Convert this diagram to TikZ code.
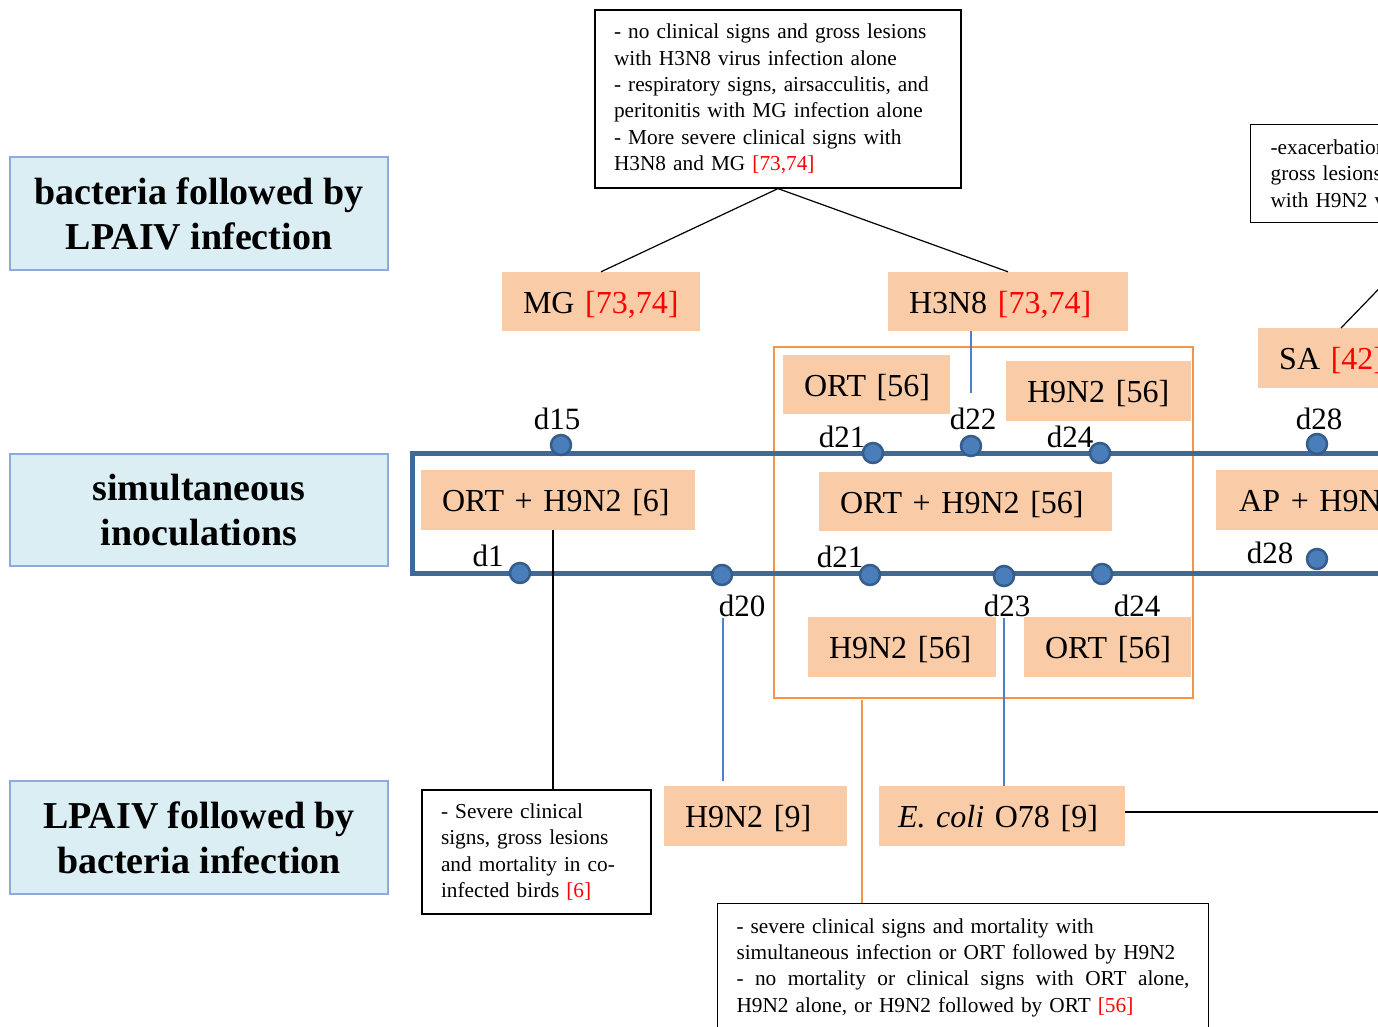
\documentclass[tikz,border=0pt]{standalone}
\usepackage{fontspec}
\setmainfont{Liberation Serif}
\usepackage{xcolor}
\definecolor{peach}{HTML}{F9CBA6}
\definecolor{grporange}{HTML}{F4954A}
\definecolor{framblue}{HTML}{3E6A9A}
\definecolor{dotfill}{HTML}{4A7EBB}
\definecolor{dotedge}{HTML}{355C8A}
\definecolor{lblfill}{HTML}{DBEEF4}
\definecolor{lbledge}{HTML}{8EA9DB}
\definecolor{thinblue}{HTML}{4F7FC4}
\definecolor{citered}{HTML}{FF0000}
\newcommand\rf[1]{\textcolor{citered}{#1}}
\newcommand\boxfont{\fontsize{32}{38}\selectfont}
\newcommand\descfont{\fontsize{21.3}{26.3}\selectfont}
\newcommand\lblfont{\fontsize{38}{45}\selectfont\bfseries}
\newcommand\dayfont{\fontsize{31}{31}\selectfont}
\begin{document}
\begin{tikzpicture}[x=1pt,y=-1pt,
  obox/.style={fill=peach, inner xsep=21pt, inner ysep=0pt, align=left, font=\boxfont, anchor=center, text height=27pt, text depth=4pt},
  lblbox/.style={draw=lbledge, line width=1.5pt, fill=lblfill, minimum width=378pt, align=center, font=\lblfont, inner sep=0pt},
  descbox/.style={draw=black, line width=1.2pt, fill=white, align=left, font=\descfont, inner xsep=19pt, inner ysep=0pt},
  dotmark/.style={circle, fill=dotfill, draw=dotedge, line width=2.5pt, minimum size=20pt, inner sep=0pt},
  daylbl/.style={font=\dayfont, inner sep=0pt},
  thinb/.style={draw=thinblue, line width=1.3pt},
  think/.style={draw=black, line width=1.2pt},
  thino/.style={draw=grporange, line width=1.5pt},
  frameline/.style={draw=framblue, line width=5pt},
  grpline/.style={draw=grporange, line width=2.5pt}
]
\useasboundingbox (0,0) rectangle (1378,1027);
\fill[white] (0,0) rectangle (1378,1027);
\clip (0,0) rectangle (1378,1027);

% left category labels
\node[lblbox, minimum height=113pt] (lb1) at (199,213.5) {bacteria followed by\\LPAIV infection};
\node[lblbox, minimum height=112pt] (lb2) at (199,510) {simultaneous\\inoculations};
\node[lblbox, minimum height=113pt] (lb3) at (199,837.5) {LPAIV followed by\\bacteria infection};

% description boxes
\node[descbox, text width=328pt, minimum height=178pt] (tb) at (778,99)
 {- no clinical signs and gross lesions\\with H3N8 virus infection alone\\- respiratory signs, airsacculitis, and\\peritonitis with MG infection alone\\- More severe clinical signs with\\H3N8 and MG \rf{[73,74]}};
\node[descbox, text width=200pt, minimum height=98pt, anchor=north west, inner xsep=20pt] (tr) at (1250,124)
 {-exacerbation\\gross lesions\\with H9N2 virus};
\node[descbox, text width=191pt, minimum height=124pt] (sev) at (536.5,852)
 {- Severe clinical\\signs, gross lesions\\and mortality in co-\\infected birds \rf{[6]}};
\node[descbox, text width=453pt, minimum height=128pt, anchor=north] (bot) at (963,903)
 {- severe clinical signs and mortality with\\simultaneous infection or ORT followed by H9N2\\\makebox[453pt]{-\hfill no\hfill mortality\hfill or\hfill clinical\hfill signs\hfill with\hfill ORT\hfill alone,}\\H9N2 alone, or H9N2 followed by ORT \rf{[56]}};

% orange group frame
\node[grpline, minimum width=419pt, minimum height=351pt, inner sep=0pt] (grp) at (983.5,522.5) {};

% blue timeline frame
\draw[frameline] (1400,453) -| (412,573) -- (1400,573);

% peach boxes
\node[obox, text width=156pt, minimum height=59pt] (mg) at (601,301.5) {\mbox{MG \rf{[73,74]}}};
\node[obox, text width=198pt, minimum height=59pt] (h3n8) at (1008,301.5) {\mbox{H3N8 \rf{[73,74]}}};
\node[obox, text width=200pt, minimum height=60pt, anchor=west] (sa) at (1258,358) {\mbox{SA \rf{[42]}}};
\node[obox, text width=125pt, minimum height=59pt] (ort56a) at (866.5,384.5) {\mbox{ORT [56]}};
\node[obox, text width=143pt, minimum height=60pt] (h956a) at (1098.5,391) {\mbox{H9N2 [56]}};
\node[obox, text width=232pt, minimum height=60pt] (oh6) at (558,500) {\mbox{ORT + H9N2 [6]}};
\node[obox, text width=251pt, minimum height=59pt] (oh56) at (965.5,501.5) {\mbox{ORT + H9N2 [56]}};
\node[obox, text width=250pt, minimum height=60pt, anchor=west, inner xsep=23pt] (ap) at (1216,500) {\mbox{AP + H9N2}};
\node[obox, text width=146pt, minimum height=60pt] (h956b) at (902,647) {\mbox{H9N2 [56]}};
\node[obox, text width=125pt, minimum height=60pt] (ort56b) at (1107.5,647) {\mbox{ORT [56]}};
\node[obox, text width=141pt, minimum height=60pt] (h99) at (755.5,816) {\mbox{H9N2 [9]}};
\node[obox, text width=208pt, minimum height=60pt, inner xsep=19pt] (ecoli) at (1002,816) {\mbox{\textit{E. coli} O78 [9]}};

% timeline dots
\node[dotmark] (p15) at (561,445) {};
\node[dotmark] (p21a) at (873,453) {};
\node[dotmark] (p22) at (971,446) {};
\node[dotmark] (p24a) at (1100,453) {};
\node[dotmark] (p28a) at (1317,444) {};
\node[dotmark] (p1) at (520,573) {};
\node[dotmark] (p20) at (722,575) {};
\node[dotmark] (p21b) at (870,575) {};
\node[dotmark] (p23) at (1004,576) {};
\node[dotmark] (p24b) at (1102,574) {};
\node[dotmark] (p28b) at (1317,559) {};

% day labels
\node[daylbl] (l15) at (557,419) {d15};
\node[daylbl] (l21a) at (842,437) {d21};
\node[daylbl] (l22) at (973,419) {d22};
\node[daylbl] (l24a) at (1070,437) {d24};
\node[daylbl] (l28a) at (1319,419) {d28};
\node[daylbl] (l1) at (488,556) {d1};
\node[daylbl] (l20) at (742,606) {d20};
\node[daylbl] (l21b) at (840,557) {d21};
\node[daylbl] (l23) at (1007,606) {d23};
\node[daylbl] (l24b) at (1137,606) {d24};
\node[daylbl] (l28b) at (1270,553) {d28};

% helper coordinates
\coordinate (c22) at (971,393);
\coordinate (k1) at (553,790);
\coordinate (k2a) at (723,618);
\coordinate (k2b) at (723,781);
\coordinate (k3a) at (1004,618);
\coordinate (k4) at (862,700);
\coordinate (k5) at (1400,812);
\coordinate (k6a) at (1341,328);
\coordinate (k6b) at (1400,267);

% connectors
\draw[think] (tb.south) -- (mg.north);
\draw[think] (tb.south) -- (h3n8.north);
\draw[think] (k6a) -- (k6b);
\draw[thinb] (h3n8.south -| c22) -- (c22);
\draw[think] (oh6.south -| k1) -- (k1);
\draw[thinb] (k2a) -- (k2b);
\draw[thinb] (k3a) -- (k3a |- ecoli.north);
\draw[thino] (k4) -- (k4 |- bot.north);
\draw[think] (ecoli.east |- k5) -- (k5);
\end{tikzpicture}
\end{document}
